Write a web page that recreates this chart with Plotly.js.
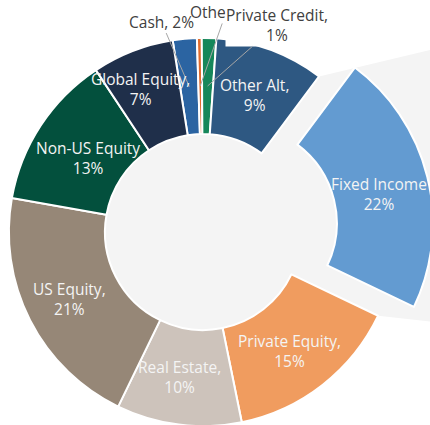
<!DOCTYPE html>
<html><head><meta charset="utf-8">
<script src="https://cdn.plot.ly/plotly-3.0.1.min.js"></script>
<style>
html,body{margin:0;padding:0;overflow:hidden;background:#ffffff;width:430px;height:425px;position:relative}
#chart{position:absolute;left:-28px;top:1px;width:462px;height:462px}
</style>
</head><body><div id="chart"></div>
<script>
// ---- data ----
const categories = ["Cash","Other","Private Credit","Other Alt","Fixed Income","Private Equity","Real Estate","US Equity","Non-US Equity","Global Equity"];
const values = [2.0, 0.4, 1.2, 9.1, 21.9, 14.7, 10.4, 20.6, 12.9, 6.8];
const labelTexts = ["Cash, 2%","Other, 0%","Private Credit,<br>1%","Other Alt,<br>9%","Fixed Income<br>22%","Private Equity,<br>15%","Real Estate,<br>10%","US Equity,<br>21%","Non-US Equity<br>13%","Global Equity,<br>7%"];

// ---- style ----
const colors = ["#2b64a2","#e06a2c","#16875a","#2e5882","#639bd1","#f09c5f","#cdc3bb","#968777","#03503d","#1f2f4a"];
const pulls = [0,0,0,0,0.19,0,0,0,0,0];
const outside = [true,true,true,false,false,false,false,false,false,false];
const outsideOffsets = [[-28,-65],[26,-74],[69,-61]];
const nudges = [[0,0],[0,0],[0,0],[1,0],[-2,6],[-3,4],[-5,0],[-3,1],[7,6],[-10,-7]];
const SIZE = 462, HOLE = 0.505, ROT = -9, FONT = 15.5;

const maxPull = Math.max(...pulls);
const R = SIZE / 2 / (1 + maxPull);
const C = SIZE / 2;
const total = values.reduce((a, b) => a + b, 0);
const toX = px => px / SIZE, toY = py => 1 - py / SIZE;
const pt = (deg, rad, dx, dy) => [C + rad * Math.sin(deg * Math.PI / 180) + (dx||0), C - rad * Math.cos(deg * Math.PI / 180) + (dy||0)];

let cum = 0;
const starts = [], ends = [], mids = [];
values.forEach(v => {
  const a0 = ROT + cum / total * 360; cum += v;
  const a1 = ROT + cum / total * 360;
  starts.push(a0); ends.push(a1); mids.push((a0 + a1) / 2);
});

const annotations = [];
let oi = 0;
categories.forEach((c, i) => {
  const pd = pulls[i] * R;
  const off = [pd * Math.sin(mids[i] * Math.PI / 180), -pd * Math.cos(mids[i] * Math.PI / 180)];
  const p = pt(mids[i], R * (1 + HOLE) / 2, off[0], off[1]);
  if (outside[i]) {
    const o = outsideOffsets[oi++];
    annotations.push({
      x: toX(p[0]), y: toY(p[1]), xref: 'paper', yref: 'paper',
      text: labelTexts[i], showarrow: true, arrowhead: 0, arrowwidth: 1, arrowcolor: '#a6a6a6',
      ax: o[0], ay: o[1], standoff: 0,
      bgcolor: i === 2 ? '#ffffff' : 'rgba(0,0,0,0)', borderpad: 0,
      font: {family: 'Open Sans, sans-serif', size: FONT, color: '#404040'}
    });
  } else {
    annotations.push({
      x: toX(p[0] + nudges[i][0]), y: toY(p[1] + nudges[i][1]), xref: 'paper', yref: 'paper',
      text: labelTexts[i], showarrow: false, xanchor: 'center', yanchor: 'middle',
      font: {family: 'Open Sans, sans-serif', size: FONT, color: '#f4f4f4'}
    });
  }
});

// light gray connector band (hole + wedge towards the exploded slice)
const fi = categories.indexOf("Fixed Income");
const cA = pt(starts[fi], R), cB = pt(ends[fi], R);
const bandTop = [SIZE, 48], bandBot = [SIZE, 321];
const path = `M ${toX(C)} ${toY(C)} L ${toX(cA[0])} ${toY(cA[1])} L ${toX(bandTop[0])} ${toY(bandTop[1])} L ${toX(bandBot[0])} ${toY(bandBot[1])} L ${toX(cB[0])} ${toY(cB[1])} Z`;
const shapes = [
  {type: 'path', xref: 'paper', yref: 'paper', path: path, fillcolor: '#f4f4f4', line: {width: 0}, layer: 'below'},
  {type: 'circle', xref: 'paper', yref: 'paper', x0: toX(C - R*HOLE), x1: toX(C + R*HOLE), y0: toY(C + R*HOLE), y1: toY(C - R*HOLE), fillcolor: '#f4f4f4', line: {width: 0}, layer: 'below'}
];

Plotly.newPlot('chart', [{
  type: 'pie', labels: categories, values: values, sort: false, direction: 'clockwise', rotation: ROT,
  hole: HOLE, pull: pulls, textinfo: 'none', hoverinfo: 'label+percent',
  marker: {colors: colors, line: {color: '#ffffff', width: 2}},
  domain: {x: [0, 1], y: [0, 1]}
}], {
  width: SIZE, height: SIZE, margin: {l: 0, r: 0, t: 0, b: 0},
  paper_bgcolor: 'rgba(0,0,0,0)', plot_bgcolor: 'rgba(0,0,0,0)',
  showlegend: false, annotations: annotations, shapes: shapes
}, {staticPlot: true, displayModeBar: false});
</script>
</body></html>
